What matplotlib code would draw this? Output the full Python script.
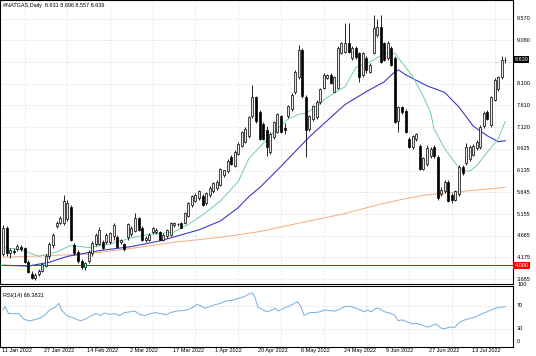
import matplotlib
matplotlib.use("Agg")
import matplotlib.pyplot as plt
from matplotlib.transforms import blended_transform_factory

# ---------------- data ----------------
opens = [4.25,4.84,4.27,4.33,4.36,4.42,4.38,4.08,3.80,3.72,3.80,3.88,3.98,4.20,4.45,4.88,4.96,4.95,5.05,5.32,4.45,4.30,4.10,3.96,4.10,
         4.28,4.48,4.48,4.52,4.52,4.52,4.67,4.64,4.52,4.47,4.63,4.70,4.78,5.07,4.85,4.56,4.58,4.74,4.76,4.74,4.58,4.67,4.69,
         4.90,4.92,4.96,4.96,5.12,5.36,5.45,5.52,5.56,5.40,5.58,5.67,5.74,5.81,6.03,6.12,6.45,6.25,6.52,6.70,6.79,6.92,7.37,7.79,7.45,
         7.19,7.05,6.56,6.90,7.01,7.36,7.10,7.37,7.52,7.90,8.25,8.86,7.80,7.08,7.30,7.34,7.68,8.01,8.23,8.30,7.92,
         8.01,8.79,8.81,9.01,8.68,8.90,8.79,8.30,8.68,8.37,8.79,9.19,9.37,9.01,8.68,8.90,8.68,7.25,7.57,7.48,6.85,6.67,6.85,6.70,6.18,
         6.28,6.46,6.68,6.45,5.60,5.67,5.88,5.58,5.47,5.60,6.22,6.30,6.40,6.50,6.64,6.67,7.14,7.45,7.16,7.74,7.97,8.25,8.631]
highs = [4.90,4.88,4.38,4.40,4.47,4.46,4.42,4.12,3.86,3.82,3.92,4.06,4.26,4.52,4.72,5.00,5.12,5.58,5.48,5.36,4.50,4.34,4.14,4.08,4.35,
         4.55,4.72,4.86,4.56,4.72,4.76,4.96,4.68,4.60,4.50,4.95,4.88,5.18,5.10,4.88,4.66,4.72,4.86,4.84,4.78,4.72,4.82,4.98,
         4.98,4.95,4.98,5.20,5.42,5.58,5.62,5.70,5.60,5.66,5.78,5.88,5.92,6.20,6.16,6.40,6.48,6.60,6.78,7.04,7.12,7.38,8.08,7.83,7.50,
         7.24,7.14,7.00,7.26,7.44,7.40,7.20,7.62,7.88,8.40,8.97,8.90,7.84,7.40,7.62,7.72,8.00,8.33,8.32,8.34,8.28,
         8.94,9.04,9.46,9.46,8.94,8.94,8.82,8.82,8.72,8.56,9.64,9.57,9.64,9.05,9.06,8.94,8.72,7.60,7.60,7.52,6.90,6.95,6.99,6.74,6.44,
         6.72,6.66,6.72,6.50,5.76,5.92,5.92,5.62,5.70,6.26,6.26,6.76,6.72,6.74,6.82,7.16,7.48,7.50,7.82,8.22,8.28,8.72,8.696]
lows = [4.20,4.22,4.16,4.25,4.33,4.33,4.05,3.82,3.68,3.66,3.76,3.84,3.95,4.15,4.40,4.84,4.92,4.90,5.00,4.55,4.24,4.05,3.92,3.90,4.05,
        4.22,4.44,4.45,4.36,4.48,4.48,4.58,4.40,4.48,4.33,4.58,4.66,4.74,4.78,4.55,4.52,4.55,4.70,4.70,4.56,4.54,4.62,4.66,
        4.86,4.89,4.83,4.92,5.08,5.32,5.42,5.48,5.34,5.36,5.55,5.64,5.70,5.78,6.00,6.08,6.26,6.22,6.48,6.66,6.75,6.88,7.32,7.22,6.82,
        6.82,6.47,6.52,6.86,6.98,6.98,6.96,7.33,7.48,7.86,8.20,7.78,6.45,7.04,7.26,7.30,7.64,7.98,8.20,8.10,7.90,
        7.98,8.76,8.78,8.78,8.64,8.66,8.14,8.26,8.34,8.34,8.76,9.16,8.56,8.60,8.64,8.50,7.20,7.01,7.42,6.98,6.64,6.62,6.80,6.16,6.14,
        6.24,6.42,6.42,5.48,5.56,5.62,5.42,5.40,5.44,5.56,6.04,6.26,6.36,6.46,6.60,6.63,7.10,7.28,7.12,7.70,7.94,8.20,8.557]
closes = [4.84,4.27,4.34,4.30,4.44,4.36,4.08,3.85,3.72,3.78,3.88,4.02,4.22,4.48,4.68,4.96,5.06,5.45,5.40,4.58,4.28,4.10,3.96,4.04,4.30,
          4.50,4.68,4.80,4.40,4.68,4.72,4.90,4.42,4.57,4.36,4.92,4.85,5.07,4.80,4.58,4.62,4.69,4.83,4.80,4.58,4.69,4.80,4.96,
          4.95,4.93,4.85,5.18,5.40,5.56,5.58,5.67,5.36,5.63,5.74,5.85,5.89,6.18,6.14,6.36,6.29,6.56,6.74,7.01,7.08,7.34,7.79,7.25,6.85,
          6.85,6.66,6.97,7.23,7.41,7.01,7.06,7.59,7.85,8.37,8.86,7.81,7.05,7.36,7.59,7.68,7.97,8.30,8.30,8.12,8.26,
          8.90,9.01,9.01,8.81,8.90,8.70,8.26,8.79,8.40,8.52,9.35,9.37,8.59,8.63,9.02,8.52,7.23,7.57,7.45,7.01,6.67,6.92,6.97,6.18,6.41,
          6.64,6.62,6.46,5.52,5.70,5.88,5.46,5.47,5.67,6.22,6.08,6.66,6.68,6.70,6.78,7.13,7.44,7.31,7.79,8.18,8.25,8.63,8.639]

# moving averages, read at bar positions
green_bar = [0,5,10,15,19,24,30,36,41,48,52,56,61,66,69,73,76,80,83,85,88,91,96,99,104,107,110,111,115,118,120,121,124,127,129,131,133,136,139,141]
green_val = [4.40,4.35,4.20,4.30,4.45,4.40,4.48,4.62,4.70,4.75,4.92,5.14,5.45,5.89,6.41,6.75,7.01,7.30,7.41,7.43,7.59,7.79,8.03,8.46,8.63,8.79,8.79,8.68,8.26,7.81,7.45,7.08,6.63,6.30,6.14,6.12,6.25,6.56,6.85,7.25]
blue_bar = [0,7,13,18,27,36,44,48,55,61,66,69,72,77,86,96,102,107,110,111,113,119,124,128,132,136,139,141]
blue_val = [4.00,3.98,4.07,4.20,4.33,4.42,4.55,4.64,4.80,5.00,5.30,5.55,5.75,6.15,6.90,7.63,7.92,8.14,8.37,8.41,8.30,8.05,7.90,7.57,7.14,6.92,6.79,6.81]
orange_bar = [0,23,36,48,61,72,83,95,106,111,118,128,141]
orange_val = [4.18,4.25,4.38,4.52,4.63,4.76,4.95,5.15,5.38,5.47,5.58,5.66,5.76]

# RSI(14), read at bar positions
rsi_bar = [0,0.5,1.5,2.9,4.4,5.8,7.3,8.7,10.1,11.6,13.0,14.5,15.6,16.4,17.8,19.7,21.7,23.1,24.5,26.0,
           27.4,28.4,29.8,31.3,32.7,34.1,35.6,37.0,38.5,39.9,41.3,42.8,44.2,45.7,47.1,48.5,50.0,51.4,52.9,54.3,
           55.3,56.7,58.1,59.6,61.0,62.5,64.4,66.3,67.7,69.2,70.0,70.6,71.6,72.5,74.0,75.4,76.4,77.3,78.8,80.2,
           81.7,82.6,83.6,84.5,86.0,87.4,88.9,90.3,91.7,93.2,94.6,96.1,97.5,99.0,100.4,101.3,102.3,103.3,104.7,105.7,
           107.1,108.5,110.0,110.9,111.9,113.3,114.8,116.2,117.7,119.1,120.5,121.5,123.0,123.9,125.3,126.8,128.2,129.7,131.1,132.5,
           133.5,134.5,135.4,136.9,138.3,139.8,141.0]
rsi_val = [62.5,68.8,56.3,56.3,56.3,46.9,43.8,45.6,48.1,53.1,62.5,66.9,73.8,62.5,53.1,48.8,43.8,46.9,51.9,56.3,
           53.1,57.5,55.0,56.3,53.1,58.1,59.4,60.6,54.4,53.1,56.3,58.1,56.3,54.4,58.1,60.6,61.3,62.5,65.6,71.9,
           70.6,65.6,68.8,71.9,73.8,78.1,79.4,83.1,85.6,90.6,91.9,85.6,66.9,64.4,59.4,62.5,65.6,60.6,65.6,68.8,
           73.8,76.9,68.8,53.1,58.1,58.1,59.4,62.5,61.3,60.6,64.4,68.8,68.8,65.6,62.5,59.4,62.5,59.4,65.6,64.4,
           59.4,57.5,53.1,43.8,45.6,42.5,38.8,39.4,36.3,33.1,35.6,38.8,31.3,30.0,33.1,32.5,41.9,45.6,48.1,50.0,
           53.1,56.3,58.1,62.5,65.6,67.5,68.4]

date_labels = ["11 Jan 2022","27 Jan 2022","14 Feb 2022","2 Mar 2022","17 Mar 2022","1 Apr 2022",
               "20 Apr 2022","6 May 2022","24 May 2022","9 Jun 2022","27 Jun 2022","13 Jul 2022"]
date_bars = [0,12,24,36,48,60,72,84,96,108,120,132]
price_levels = [9.570,9.080,8.590,8.100,7.610,7.120,6.625,6.135,5.645,5.155,4.665,4.175,3.685]
rsi_levels = [70,30]
hline_level = 4.000
title = "#NATGAS,Daily  8.631 8.696 8.557 8.639"
rsi_title = "RSI(14) 68.3831"
last_price = 8.639

# ---------------- figure ----------------
W, H = 536, 356
fig = plt.figure(figsize=(W/100, H/100), dpi=100)
FONT = "Liberation Sans"
FS = 4.0
plt.rcParams['font.family'] = [FONT, 'DejaVu Sans']

def rect(x0, y0, x1, y1):
    return [x0/W, 1-y1/H, (x1-x0)/W, (y1-y0)/H]

ax = fig.add_axes(rect(0, 0, 513, 283.5))
axr = fig.add_axes(rect(0, 285.5, 513, 346.5))

n = len(closes)
xs = list(range(n))
x0px, step = 3.2, 3.561
ax.set_xlim(-x0px/step, (513-x0px)/step)
axr.set_xlim(-x0px/step, (513-x0px)/step)
ax.set_ylim(9.570 - 265.0/44.3, 9.570 + 18.5/44.3)
axr.set_ylim(-0.4, 104.8)

for a in (ax, axr):
    a.set_xticks([]); a.set_yticks([])
    for s in a.spines.values():
        s.set_color('black'); s.set_linewidth(0.8)
    a.set_facecolor('white')

grid_kw = dict(color='#c4c4c4', lw=0.5, ls=(0, (1, 2)), zorder=0)
for b in date_bars:
    ax.axvline(b + 6, **grid_kw)
    axr.axvline(b + 6, **grid_kw)
for p in price_levels:
    ax.axhline(p, **grid_kw)
for r in rsi_levels:
    axr.axhline(r, **grid_kw)

# moving averages
ax.plot(orange_bar, orange_val, color='#f2ad7e', lw=0.7, zorder=2)
ax.plot(blue_bar, blue_val, color='#3a3ac8', lw=0.8, zorder=2)
ax.plot(green_bar, green_val, color='#70cfa6', lw=0.7, zorder=2)

# red horizontal line
ax.axhline(hline_level, color='#ff0000', lw=0.7, zorder=2)

# candles
ax.vlines(xs, lows, highs, color='black', lw=0.6, zorder=3)
bw = 0.56
for i in xs:
    o, c = opens[i], closes[i]
    lo, hi = min(o, c), max(o, c)
    h = max(hi - lo, 0.012)
    fc = '#e6e6e6' if c >= o else 'black'
    ax.bar(i, h, bottom=lo, width=bw, color=fc, edgecolor='black', linewidth=0.5, zorder=4)

# RSI
axr.plot(rsi_bar, rsi_val, color='#76aee0', lw=0.7)

# texts
tb = blended_transform_factory(ax.transAxes, ax.transData)
for p in price_levels:
    if abs(p - last_price) < 0.1:
        continue
    ax.text(1.008, p, f"{p:.3f}", transform=tb, ha='left', va='center', fontsize=FS, clip_on=False)
ax.text(1.003, last_price, f"{last_price:.3f}", transform=tb, ha='left', va='center', fontsize=FS,
        color='white', clip_on=False, bbox=dict(boxstyle='square,pad=0.2', fc='black', ec='none'))
ax.text(1.003, hline_level, f"{hline_level:.3f}", transform=tb, ha='left', va='center', fontsize=FS,
        color='white', clip_on=False, bbox=dict(boxstyle='square,pad=0.2', fc='#ff0000', ec='none'))

tr = blended_transform_factory(axr.transAxes, axr.transData)
for r, yv in [("100", 106.5), ("70", 70), ("30", 30), ("0", 7.9)]:
    axr.text(1.008, yv, r, transform=tr, ha='left', va='center', fontsize=FS, clip_on=False)

td = blended_transform_factory(axr.transData, axr.transAxes)
for b, lab in zip(date_bars, date_labels):
    axr.text(b - 0.42, -0.058, lab, transform=td, ha='left', va='center', fontsize=FS, clip_on=False)

fig.text(3/W, 1-5/H, title, ha='left', va='center', fontsize=FS)
fig.text(3/W, 1-295/H, rsi_title, ha='left', va='center', fontsize=FS)

fig.savefig("out.png", dpi=100)
